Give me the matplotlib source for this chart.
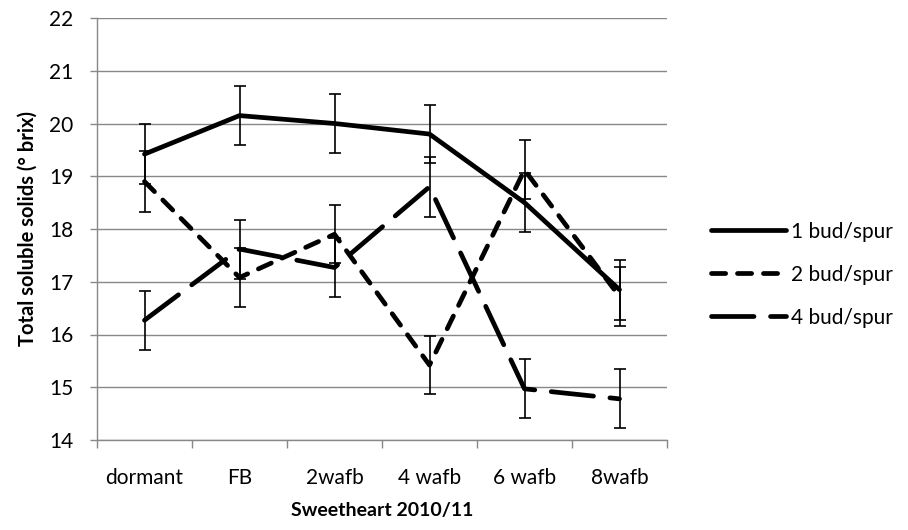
import numpy as np
import matplotlib
matplotlib.use("Agg")
import matplotlib.pyplot as plt

plt.rcParams['font.family'] = ['Lato', 'DejaVu Sans']

# data
stages = ["dormant", "FB", "2wafb", "4 wafb", "6 wafb", "8wafb"]
bud1 = [19.42, 20.15, 20.0, 19.8, 18.5, 16.85]
bud1_err = [0.57, 0.56, 0.56, 0.55, 0.56, 0.57]
bud2 = [18.9, 17.08, 17.9, 15.42, 19.12, 16.72]
bud2_err = [0.57, 0.56, 0.55, 0.55, 0.56, 0.56]
bud4 = [16.27, 17.62, 17.27, 18.8, 14.97, 14.78]
bud4_err = [0.56, 0.56, 0.56, 0.57, 0.56, 0.56]
labels = ["1 bud/spur", "2 bud/spur", "4 bud/spur"]

fig = plt.figure(figsize=(9.08, 5.30), dpi=100)
ax = fig.add_axes([97/908, 1 - 440/530, 570/908, 422/530])

x = np.arange(len(stages))
lw = 3.4
series = [(bud1, bud1_err, None), (bud2, bud2_err, (3, 2.5)), (bud4, bud4_err, (9, 3.5))]
handles = []
for (vals, errs, dash), lab in zip(series, labels):
    ln, = ax.plot(x, vals, color='black', lw=lw, solid_capstyle='round',
                  dash_capstyle='round', label=lab, zorder=3)
    if dash is not None:
        ln.set_dashes(dash)
    ax.errorbar(x, vals, yerr=errs, fmt='none', ecolor='black', elinewidth=1.2,
                capsize=4, capthick=1.2, zorder=4)
    handles.append(ln)

fs = 15
ax.set_xlim(-0.5, 5.5)
ax.set_ylim(14, 22)
ax.set_yticks(range(14, 23))
ax.tick_params(axis='y', direction='out', length=5, color='#888888', width=1,
               labelsize=fs, pad=12)
ax.set_xticks(np.arange(-0.5, 6, 1))
ax.set_xticklabels([])
ax.set_xticks(x, minor=True)
ax.set_xticklabels(stages, minor=True)
ax.tick_params(axis='x', which='major', direction='out', length=6, color='#888888', width=1)
ax.tick_params(axis='x', which='minor', length=0, labelsize=fs, pad=20)

ax.yaxis.grid(True, color='#888888', lw=1)
ax.set_axisbelow(True)
for s in ['top', 'right']:
    ax.spines[s].set_visible(False)
for s in ['left', 'bottom']:
    ax.spines[s].set_color('#888888')
    ax.spines[s].set_linewidth(1)

ax.set_ylabel("Total soluble solids (° brix)", fontsize=14.5, fontweight='bold', labelpad=8)
ax.set_xlabel("Sweetheart 2010/11", fontsize=14, fontweight='bold', labelpad=10)

fig.legend(handles=handles, labels=labels, loc='upper left',
           bbox_to_anchor=(692/908, 1 - 203/530), frameon=False, fontsize=fs,
           handlelength=3.6, handletextpad=0.25, labelspacing=1.1)

fig.savefig("out.png", dpi=100)
